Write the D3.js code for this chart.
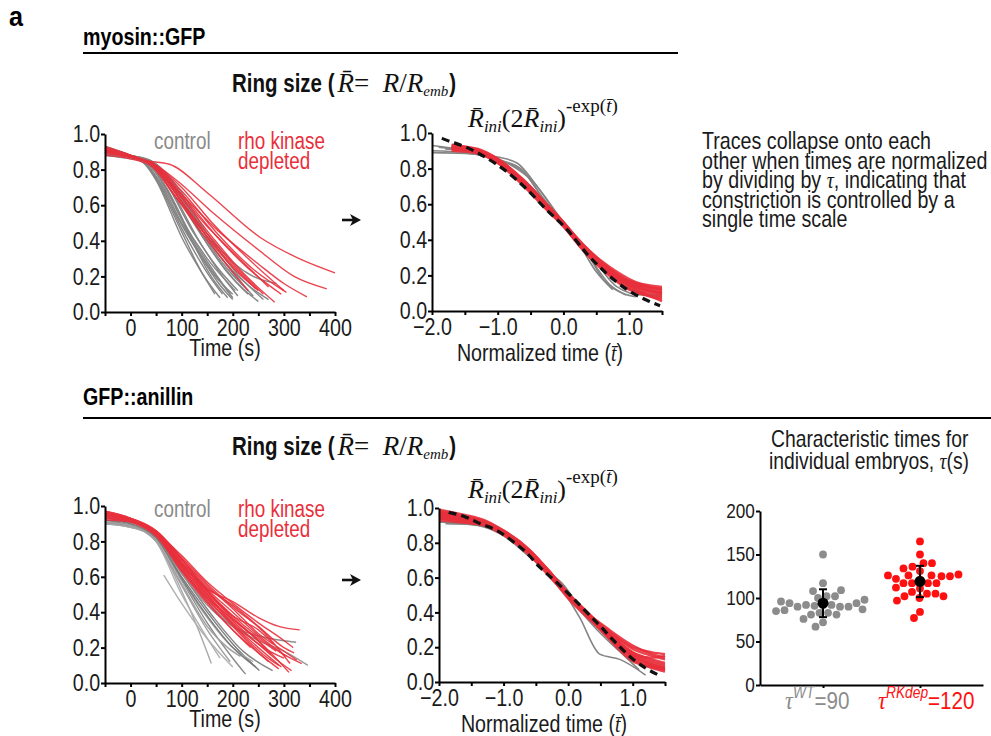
<!DOCTYPE html>
<html><head><meta charset="utf-8">
<script src="https://cdn.jsdelivr.net/npm/d3@7"></script>
<style>body{margin:0;background:#fff}svg{display:block}</style>
</head><body><svg id="c" width="991" height="736"></svg>
<script>
// ---------------- DATA ----------------
const timeTicks = [-50,0,50,100,150,200,250,300,350,400];
const timeLabels = [0,100,200,300,400];
const normTicks = [-2,-1.5,-1,-0.5,0,0.5,1,1.5];
const normLabels = [-2,-1,0,1];
const ringTicks = [0,0.2,0.4,0.6,0.8,1.0];
const tauTicks = [0,50,100,150,200];
const groups = ["WT","RKdep"];
const groupMeanLabel = ["90","120"];

// myosin::GFP raw traces [time s, ring size]
const topControl = [
 [[-50,.92],[0,.88],[25,.84],[50,.74],[100,.42],[150,.17],[165,.10]],
 [[-50,.90],[0,.87],[25,.84],[50,.76],[100,.47],[150,.22],[180,.10]],
 [[-50,.88],[0,.87],[30,.83],[60,.72],[100,.50],[150,.27],[200,.08]],
 [[-50,.93],[0,.88],[30,.84],[60,.70],[110,.44],[160,.22],[200,.10]],
 [[-50,.91],[0,.87],[30,.85],[70,.72],[120,.46],[170,.25],[210,.12]],
 [[-50,.89],[0,.87],[40,.83],[80,.68],[130,.42],[180,.20],[210,.09]],
 [[-50,.90],[0,.88],[40,.84],[80,.70],[130,.47],[190,.22],[230,.10]],
 [[-50,.92],[0,.88],[40,.85],[90,.70],[140,.46],[200,.22],[240,.09]],
 [[-50,.88],[0,.86],[40,.84],[90,.71],[150,.44],[210,.21],[260,.07]],
 [[-50,.91],[0,.87],[50,.82],[100,.64],[150,.44],[200,.28],[240,.20],[285,.16]],
 [[-50,.90],[0,.87],[30,.84],[60,.74],[100,.52],[150,.30],[205,.12]],
 [[-50,.92],[0,.87],[30,.83],[55,.72],[100,.45],[140,.22],[175,.08]],
 [[-50,.89],[0,.87],[40,.82],[80,.64],[120,.40],[160,.19],[190,.08]],
 [[-50,.90],[0,.88],[45,.84],[95,.66],[140,.44],[190,.24],[230,.12]],
 [[-50,.93],[0,.88],[35,.84],[70,.70],[120,.42],[170,.20],[195,.10]],
 [[-50,.91],[0,.87],[50,.83],[100,.62],[160,.34],[220,.13],[250,.06]],
 [[-50,.89],[0,.87],[35,.83],[75,.66],[125,.38],[170,.17],[200,.07]],
 [[-50,.90],[0,.88],[55,.82],[110,.60],[170,.33],[230,.15],[270,.07]]
];
const topRho = [
 [[-50,.90],[0,.87],[30,.85],[76,.83],[150,.67],[253,.42],[330,.30],[400,.22]],
 [[-50,.91],[0,.87],[40,.84],[90,.74],[160,.56],[250,.35],[320,.20],[384,.13]],
 [[-50,.92],[0,.88],[40,.83],[100,.66],[170,.46],[250,.27],[300,.16],[345,.085]],
 [[-50,.90],[0,.87],[40,.84],[100,.68],[170,.44],[240,.24],[305,.11]],
 [[-50,.91],[0,.88],[40,.83],[100,.64],[160,.42],[220,.22],[282,.055]],
 [[-50,.89],[0,.87],[40,.84],[100,.62],[150,.44],[210,.24],[260,.10]],
 [[-50,.93],[0,.88],[40,.83],[90,.66],[150,.42],[200,.25],[250,.12]],
 [[-50,.90],[0,.87],[40,.84],[100,.66],[170,.42],[240,.22],[295,.10]],
 [[-50,.92],[0,.88],[40,.83],[90,.64],[140,.44],[190,.26],[230,.12]],
 [[-50,.91],[0,.87],[45,.83],[100,.70],[160,.50],[230,.30],[300,.12]],
 [[-50,.90],[0,.87],[40,.84],[90,.68],[150,.48],[220,.28],[270,.14]],
 [[-50,.88],[0,.86],[40,.82],[85,.66],[140,.46],[200,.26],[245,.13]]
];
// myosin::GFP normalized traces
const topNormControl = [
 [[-2,.89],[-1.5,.885],[-1,.865],[-0.7,.83],[-0.4,.70],[0,.49],[0.4,.30],[0.7,.15],[0.95,.09]],
 [[-2,.93],[-1.6,.91],[-1.2,.88],[-0.8,.82],[-0.5,.74],[0,.50],[0.4,.32],[0.8,.17],[1.2,.10],[1.5,.08]],
 [[-1.9,.92],[-1.5,.90],[-1,.85],[-0.65,.80],[-0.4,.68],[0,.48],[0.4,.30],[0.6,.18],[0.9,.10],[1.1,.08]],
 [[-2,.90],[-1.5,.89],[-1,.84],[-0.5,.70],[0,.48],[0.5,.27],[0.8,.14],[1.2,.09],[1.5,.09]],
 [[-1.8,.91],[-1.4,.895],[-1,.85],[-0.6,.78],[-0.2,.57],[0.2,.40],[0.5,.22],[0.75,.12]]
];
const topNormT = [-1.7,-1.3,-1.0,-0.6,-0.3,0,0.3,0.6,1.0,1.5];
const topNormRho = [
 [.92,.90,.845,.72,.60,.49,.36,.25,.15,.10],
 [.935,.905,.855,.73,.615,.50,.37,.265,.165,.125],
 [.905,.89,.835,.705,.59,.475,.345,.235,.125,.065],
 [.925,.90,.85,.725,.61,.495,.365,.26,.17,.135],
 [.91,.89,.84,.71,.595,.48,.35,.245,.14,.085],
 [.92,.90,.85,.725,.605,.49,.37,.275,.18,.115],
 [.90,.885,.83,.70,.585,.475,.34,.23,.12,.075],
 [.93,.91,.855,.735,.62,.50,.36,.25,.155,.10],
 [.915,.895,.845,.715,.60,.485,.35,.24,.14,.055],
 [.915,.90,.84,.72,.61,.495,.375,.27,.165,.12],
 [.92,.895,.85,.73,.605,.485,.355,.25,.15,.095],
 [.93,.905,.845,.715,.60,.49,.365,.255,.16,.105]
];
const topModel = [[-1.85,.97],[-1.78,.96],[-1.48,.92],[-1.17,.86],[-0.87,.785],[-0.56,.685],[-0.26,.57],[0.05,.46],[0.36,.32],[0.66,.21],[0.97,.12],[1.27,.06],[1.47,.03]];

// GFP::anillin raw traces
const botControl = [
 [[-50,.92],[0,.90],[50,.80],[100,.52],[130,.32],[158,.11]],
 [[65,.61],[100,.45],[150,.25],[200,.09]],
 [[-50,.90],[0,.89],[50,.82],[100,.58],[150,.34],[200,.14],[225,.05]],
 [[-50,.94],[0,.90],[50,.80],[100,.55],[150,.30],[195,.12]],
 [[-50,.91],[0,.89],[50,.82],[100,.60],[150,.40],[200,.22],[252,.07]],
 [[-50,.90],[0,.88],[50,.83],[100,.64],[150,.46],[200,.32],[250,.24],[300,.18],[347,.10]],
 [[-50,.93],[0,.90],[50,.80],[100,.50],[140,.30],[175,.14]],
 [[-50,.92],[0,.89],[50,.83],[100,.62],[160,.38],[220,.18],[278,.07]],
 [[-50,.90],[0,.88],[50,.81],[100,.58],[150,.37],[200,.20],[240,.12]],
 [[-50,.95],[0,.90],[50,.82],[100,.62],[150,.44],[200,.32],[260,.26],[324,.23]],
 [[-50,.91],[0,.89],[50,.80],[100,.56],[150,.32],[190,.20],[215,.15]],
 [[-50,.92],[0,.90],[50,.82],[100,.59],[150,.38],[200,.20],[245,.09]]
];
const botControlShade = ["#a8a8a8","#b0b0b0","#8a8a8a","#a0a0a0","#7d7d7d","#9a9a9a","#b0b0b0","#858585","#a5a5a5","#8f8f8f","#a0a0a0","#7a7a7a"];
const botRho = [
 [[-50,.97],[0,.93],[50,.84],[100,.67],[150,.53],[200,.46],[250,.37],[290,.32],[331,.30]],
 [[-50,.95],[0,.92],[50,.84],[100,.66],[150,.50],[200,.35],[250,.22],[300,.10],[315,.07]],
 [[-50,.93],[0,.91],[50,.85],[100,.68],[150,.52],[200,.38],[250,.26],[300,.16],[335,.11]],
 [[-50,.96],[0,.92],[50,.84],[100,.64],[150,.46],[200,.30],[250,.17],[290,.08]],
 [[-50,.94],[0,.92],[50,.85],[100,.70],[150,.55],[200,.42],[250,.28],[300,.18],[325,.13]],
 [[-50,.92],[0,.91],[50,.84],[100,.66],[150,.48],[200,.32],[240,.20],[270,.12]],
 [[-50,.95],[0,.93],[50,.86],[100,.70],[150,.52],[200,.36],[250,.24],[310,.06]],
 [[-50,.97],[0,.92],[50,.84],[100,.66],[150,.49],[200,.34],[260,.20],[300,.14]],
 [[-50,.93],[0,.91],[50,.85],[100,.68],[150,.50],[210,.30],[260,.16],[290,.10]],
 [[-50,.95],[0,.92],[50,.83],[100,.63],[150,.45],[200,.30],[235,.20]],
 [[-50,.94],[0,.92],[50,.84],[100,.68],[150,.52],[200,.38],[250,.30],[280,.22]],
 [[-50,.96],[0,.93],[50,.86],[100,.70],[150,.54],[200,.44],[250,.32],[300,.20],[320,.17]],
 [[-50,.95],[0,.92],[50,.85],[100,.72],[150,.57],[200,.45],[250,.34],[300,.24],[318,.20]],
 [[-50,.93],[0,.92],[50,.84],[100,.65],[150,.47],[200,.33],[250,.20],[295,.09]],
 [[-50,.97],[0,.93],[50,.85],[100,.69],[150,.53],[200,.40],[250,.27],[305,.15]],
 [[-50,.94],[0,.91],[50,.83],[100,.64],[150,.48],[200,.36],[250,.25],[285,.18]],
 [[-50,.96],[0,.92],[50,.86],[100,.71],[150,.56],[200,.43],[260,.29],[312,.11]],
 [[-50,.95],[0,.93],[50,.84],[100,.67],[150,.51],[200,.37],[245,.25],[275,.16]]
];
// GFP::anillin normalized traces
const botNormControl = [
 [[-2,.92],[-1.5,.915],[-1.2,.905],[-0.9,.83],[-0.5,.70],[0,.48],[0.18,.37],[0.49,.16],[0.8,.13],[1.2,.04]],
 [[-2,.92],[-1.4,.90],[-1.0,.84],[-0.6,.72],[-0.3,.63],[-0.1,.57],[0.2,.42],[0.6,.26],[1.0,.12],[1.5,.08]],
 [[-1.9,.91],[-1.5,.905],[-1,.85],[-0.5,.70],[0,.49],[0.5,.28],[0.9,.14],[1.1,.07]]
];
const botNormT = [-2,-1.6,-1.3,-1.0,-0.6,-0.3,0,0.3,0.6,1.0,1.3,1.5];
const botNormRho = [
 [.98,.95,.92,.86,.75,.63,.50,.39,.29,.17,.13,.11],
 [.96,.94,.915,.86,.74,.62,.49,.38,.28,.15,.10,.08],
 [.94,.92,.90,.85,.74,.63,.50,.39,.30,.20,.17,.16],
 [.99,.96,.93,.87,.76,.64,.51,.40,.29,.16,.11,.09],
 [.95,.93,.91,.85,.73,.61,.49,.38,.27,.13,.08,.06],
 [.97,.945,.92,.86,.75,.63,.50,.39,.30,.19,.15,.13],
 [.93,.915,.90,.845,.735,.62,.49,.38,.28,.14,.09,.07],
 [.98,.95,.925,.865,.755,.635,.505,.395,.31,.21,.16,.14],
 [.96,.94,.91,.855,.745,.625,.495,.38,.26,.12,.085,.07],
 [.95,.935,.91,.86,.75,.64,.51,.40,.29,.17,.12,.10],
 [.97,.95,.92,.87,.76,.64,.50,.385,.28,.16,.14,.15],
 [.94,.93,.905,.85,.74,.62,.48,.37,.27,.15,.10,.08]
];
const botModel = [[-1.85,.975],[-1.6,.95],[-1.36,.91],[-1.1,.87],[-0.9,.82],[-0.65,.745],[-0.44,.66],[-0.2,.58],[0,.51],[0.29,.40],[0.5,.32],[0.7,.24],[1.01,.13],[1.2,.08],[1.4,.04]];

// characteristic times tau (s)
const tauWT = [150,117,109,102,102,108,92,90,90,91,94,90,92,96,94,86,92,81,85,81,83,83,87,67,72,76,100,98];
const tauRK = [165,150,136,140,140,131,125,127,125,126,134,126,126,121,117,117,117,111,117,105,105,102,100,107,102,97,84,77,122,112];
const tauMean = [94,119];
const tauLo = [78,101];
const tauHi = [110,137];

// ---------------- DRAWING ----------------
const SANS = "'Liberation Sans',Arial,sans-serif";
const SERIF = "'Liberation Serif','Times New Roman',serif";
const SX = 0.82;                 // horizontal condensing (Arial Narrow look)
const GRAY = "#858585", RED = "#e8303c", TXT = "#1a1a1a";
const svg = d3.select("#c");
svg.append("rect").attr("width",991).attr("height",736).attr("fill","#fff");

function ctext(x,y,opts={}){
  const g = svg.append("g").attr("transform",`translate(${x},${y}) scale(${opts.sx||SX},1)`);
  const t = g.append("text").attr("x",0).attr("y",0)
    .attr("font-family",opts.family||SANS).attr("font-size",opts.size||23)
    .attr("font-weight",opts.weight||"normal").attr("fill",opts.fill||TXT)
    .attr("text-anchor",opts.anchor||"start");
  if (opts.text!==undefined) t.text(opts.text);
  return t;
}
function styleAxis(sel, fs, sx){
  sel.attr("font-family",null).attr("font-size",null);
  sel.select(".domain").attr("stroke","#000").attr("stroke-width",2);
  sel.selectAll(".tick line").attr("stroke","#000").attr("stroke-width",2);
  sel.selectAll(".tick text").attr("font-family",SANS).attr("font-size",fs).attr("fill",TXT)
    .attr("transform",`scale(${sx||SX},1)`);
}
function drawAxes(xs, ys, xt, xfmt){
  const gx = svg.append("g").attr("transform",`translate(0,${ys.range()[0]})`)
    .call(d3.axisBottom(xs).tickValues(xt).tickFormat(xfmt).tickSize(4).tickSizeOuter(0).tickPadding(3));
  styleAxis(gx, 24);
  const gy = svg.append("g").attr("transform",`translate(${xs.range()[0]},0)`)
    .call(d3.axisLeft(ys).tickValues(ringTicks).tickFormat(d3.format(".1f")).tickSize(4).tickSizeOuter(0).tickPadding(2));
  styleAxis(gy, 24);
}
function drawTraces(xs, ys, traces, color, width, opacity){
  const line = d3.line().x(d=>xs(d[0])).y(d=>ys(d[1])).curve(d3.curveMonotoneX);
  svg.append("g").selectAll("path").data(traces).join("path")
    .attr("d",line).attr("fill","none")
    .attr("stroke",(d,i)=>Array.isArray(color)?color[i%color.length]:color)
    .attr("stroke-width",width).attr("stroke-opacity",opacity).attr("stroke-linejoin","round");
}
function ringTitle(x,y){
  const t1 = ctext(x,y,{weight:"bold",size:25,fill:"#111",text:"Ring size ("});
  const w1 = t1.node().getComputedTextLength()*SX;
  const s = svg.append("text").attr("x",x+w1+3).attr("y",y).attr("font-family",SERIF).attr("font-size",27).attr("fill","#111");
  s.append("tspan").attr("font-style","italic").text("R\u0304");
  s.append("tspan").text("=\u2002");
  s.append("tspan").attr("font-style","italic").text("R");
  s.append("tspan").text("/");
  s.append("tspan").attr("font-style","italic").text("R");
  s.append("tspan").attr("font-style","italic").attr("font-size",15).attr("dy",4).text("emb");
  const w2 = s.node().getComputedTextLength();
  ctext(x+w1+3+w2+1,y,{weight:"bold",size:25,fill:"#111",text:")"});
}
function formula(x,y){
  const t = svg.append("text").attr("x",x).attr("y",y).attr("font-family",SERIF).attr("font-size",26).attr("fill","#111");
  t.append("tspan").attr("font-style","italic").text("R\u0304");
  t.append("tspan").attr("font-style","italic").attr("font-size",17).attr("dy",5).text("ini");
  t.append("tspan").attr("dy",-5).text("(2");
  t.append("tspan").attr("font-style","italic").text("R\u0304");
  t.append("tspan").attr("font-style","italic").attr("font-size",17).attr("dy",5).text("ini");
  t.append("tspan").attr("dy",-5).text(")");
  t.append("tspan").attr("font-size",19).attr("dy",-15).text("-exp(");
  t.append("tspan").attr("font-size",19).attr("font-style","italic").text("t\u0304");
  t.append("tspan").attr("font-size",19).text(")");
}
function normXLabel(cx,y){
  const t = ctext(cx,y,{anchor:"middle",size:24});
  t.append("tspan").text("Normalized time (");
  t.append("tspan").attr("font-family",SERIF).attr("font-style","italic").text("t\u0304");
  t.append("tspan").text(")");
}
function arrow(x,y){
  svg.append("line").attr("x1",x).attr("x2",x+11).attr("y1",y).attr("y2",y).attr("stroke","#111").attr("stroke-width",2.6);
  svg.append("path").attr("d",`M${x+8},${y-6}L${x+19},${y}L${x+8},${y+6}L${x+11},${y}Z`).attr("fill","#111");
}
const timeFmt = d => timeLabels.includes(d) ? String(d) : "";
const normFmt = d => normLabels.includes(d) ? d3.format(".1f")(d) : "";

function section(o){
  const xs = d3.scaleLinear().domain([-50,400]).range([105,335]);
  const ys = d3.scaleLinear().domain([0,1]).range(o.rawY);
  drawTraces(xs, ys, o.control, o.controlColor, 1.4, 1);
  drawTraces(xs, ys, o.rho, RED, 1.4, 0.9);
  drawAxes(xs, ys, timeTicks, timeFmt);
  ctext(225, o.rawY[0]+44, {anchor:"middle", size:24, text:"Time (s)"});
  ctext(154, o.legendY, {fill:"#8a8a8a", size:23, text:"control"});
  ctext(238, o.legendY, {fill:RED, size:23, text:"rho kinase"});
  ctext(238, o.legendY+20, {fill:RED, size:23, text:"depleted"});
  arrow(342, o.arrowY);
  const xn = d3.scaleLinear().domain([-2,1.5]).range(o.normX);
  const yn = d3.scaleLinear().domain([0,1]).range(o.normY);
  drawTraces(xn, yn, o.normControl, GRAY, 1.6, 1);
  drawTraces(xn, yn, o.normRho, RED, 2.4, 0.9);
  svg.append("path").datum(o.model)
    .attr("d", d3.line().x(d=>xn(d[0])).y(d=>yn(d[1])).curve(d3.curveMonotoneX))
    .attr("fill","none").attr("stroke","#111").attr("stroke-width",3.2).attr("stroke-dasharray","8,5");
  drawAxes(xn, yn, normTicks, normFmt);
  normXLabel(o.normLabelX, o.normY[0]+50);
  formula(468, o.formulaY);
}

// header / panel labels
ctext(9, 26, {weight:"bold", size:28, sx:0.9, fill:"#000", text:"a"});
ctext(83, 45, {weight:"bold", size:24, fill:"#000", text:"myosin::GFP"});
svg.append("line").attr("x1",83).attr("x2",678).attr("y1",53).attr("y2",53).attr("stroke","#000").attr("stroke-width",2);
ringTitle(232, 92);
ctext(83, 405, {weight:"bold", size:24, fill:"#000", text:"GFP::anillin"});
svg.append("line").attr("x1",83).attr("x2",991).attr("y1",418).attr("y2",418).attr("stroke","#000").attr("stroke-width",2);
ringTitle(232, 455);

const note = ["Traces collapse onto each","other when times are normalized","by dividing by \u03C4, indicating that","constriction is controlled by a","single time scale"];
note.forEach((s,i)=>{
  const t = ctext(702, 149+i*19.5, {size:24});
  if (s.includes("\u03C4")) {
    const [a,b] = s.split("\u03C4");
    t.append("tspan").text(a);
    t.append("tspan").attr("font-family",SERIF).attr("font-style","italic").text("\u03C4");
    t.append("tspan").text(b);
  } else t.text(s);
});

section({rawY:[312,134], legendY:149, arrowY:220, control:topControl, controlColor:GRAY, rho:topRho,
  normX:[432,662], normY:[311,133], normControl:topNormControl, normLabelX:540,
  normRho: topNormRho.map(v=>v.map((r,i)=>[topNormT[i],r])), model:topModel, formulaY:127});
section({rawY:[683,506], legendY:517, arrowY:580, control:botControl, controlColor:botControlShade, rho:botRho,
  normX:[439,665], normY:[682,508], normControl:botNormControl, normLabelX:544,
  normRho: botNormRho.map(v=>v.map((r,i)=>[botNormT[i],r])), model:botModel, formulaY:498});

// characteristic times panel
{
  ctext(771, 447, {size:23, sx:0.84, text:"Characteristic times for"});
  const t2 = ctext(769, 469, {size:23, sx:0.84, text:""});
  t2.append("tspan").text("individual embryos, ");
  t2.append("tspan").attr("font-family",SERIF).attr("font-style","italic").text("\u03C4");
  t2.append("tspan").text("(s)");

  const yt = d3.scaleLinear().domain([0,200]).range([685,511]);
  const xc = d3.scalePoint().domain(groups).range([760,983]).padding(0.65);
  const r = 3.9;
  function swarm(vals, cx){
    const placed = [];
    const med = d3.median(vals);
    const order = vals.map((v,i)=>i).sort((a,b)=>Math.abs(vals[a]-med)-Math.abs(vals[b]-med));
    const out = new Array(vals.length);
    order.forEach(i=>{
      const y = yt(vals[i]);
      let x = cx;
      for (let k=0;k<600;k++){
        const off = (k%2===0?1:-1)*Math.ceil(k/2)*0.5;
        const cand = cx+off;
        if (placed.every(p => (p.x-cand)**2+(p.y-y)**2 >= (2*r+0.6)**2)) { x = cand; break; }
      }
      placed.push({x,y}); out[i] = {x,y};
    });
    return out;
  }
  const colors = ["#8c8c8c","#ff1010"];
  [tauWT, tauRK].forEach((vals,gi)=>{
    svg.append("g").selectAll("circle").data(swarm(vals, xc(groups[gi]))).join("circle")
      .attr("cx",d=>d.x).attr("cy",d=>d.y).attr("r",r).attr("fill",colors[gi]);
  });
  groups.forEach((g,gi)=>{
    const cx = xc(g);
    svg.append("line").attr("x1",cx).attr("x2",cx).attr("y1",yt(tauLo[gi])).attr("y2",yt(tauHi[gi])).attr("stroke","#000").attr("stroke-width",2);
    [tauLo[gi],tauHi[gi]].forEach(v=>svg.append("line").attr("x1",cx-4).attr("x2",cx+4).attr("y1",yt(v)).attr("y2",yt(v)).attr("stroke","#000").attr("stroke-width",2));
    svg.append("circle").attr("cx",cx).attr("cy",yt(tauMean[gi])).attr("r",5.5).attr("fill","#000");
  });
  const gy = svg.append("g").attr("transform","translate(760,0)")
    .call(d3.axisLeft(yt).tickValues(tauTicks).tickSize(4).tickSizeOuter(0).tickPadding(2));
  styleAxis(gy, 20, 0.86);
  const gx = svg.append("g").attr("transform","translate(0,685)")
    .call(d3.axisBottom(xc).tickFormat(()=> "").tickSize(3).tickSizeOuter(0));
  styleAxis(gx, 20);
  const labelX = [785, 878];
  groups.forEach((g,gi)=>{
    const t = ctext(labelX[gi], 709, {fill:colors[gi], size:24, sx:0.86});
    t.append("tspan").attr("font-family",SERIF).attr("font-style","italic").attr("font-size",26).text("\u03C4");
    t.append("tspan").attr("font-style","italic").attr("font-size",16).attr("dy",-11).text(g);
    t.append("tspan").attr("dy",11).text("="+groupMeanLabel[gi]);
  });
}
</script>
</body></html>
